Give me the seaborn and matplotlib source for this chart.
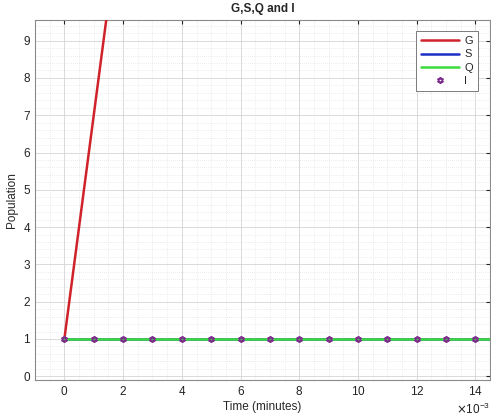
import numpy as np
import pandas as pd
import matplotlib
matplotlib.use("Agg")
import matplotlib.pyplot as plt
from matplotlib.ticker import MultipleLocator, ScalarFormatter
import seaborn as sns

# Time samples (minutes, in units of 1e-3)
t_ms = [0, 1, 2, 3, 4, 5, 6, 7, 8, 9, 10, 11, 12, 13, 14, 15]
# Populations
G_t_ms = [0, 1, 2]
G_vals = [1.0, 7.0, 13.0]
S_vals = [1, 1, 1, 1, 1, 1, 1, 1, 1, 1, 1, 1, 1, 1, 1, 1]
Q_vals = [1, 1, 1, 1, 1, 1, 1, 1, 1, 1, 1, 1, 1, 1, 1, 1]
I_vals = [1, 1, 1, 1, 1, 1, 1, 1, 1, 1, 1, 1, 1, 1, 1, 1]

t = np.array(t_ms) * 1e-3
tG = np.array(G_t_ms) * 1e-3

sns.set_style("white")
plt.rcParams["font.family"] = ["Liberation Sans", "DejaVu Sans"]

fig = plt.figure(figsize=(4.91, 4.17), dpi=100)
ax = fig.add_axes([0.0713, 0.0887, 0.927, 0.863])

red = "#D0222B"
blue = "#1C2FC4"
green = "#3BDC3B"
purple = "#7E2F8E"

sns.lineplot(x=tG, y=G_vals, ax=ax, color=red, lw=1.8, label="G", zorder=3)
sns.lineplot(x=t, y=S_vals, ax=ax, color=blue, lw=1.8, label="S", zorder=3)
sns.lineplot(x=t, y=Q_vals, ax=ax, color=green, lw=1.8, label="Q", zorder=4)
sns.lineplot(x=t, y=I_vals, ax=ax, color=purple, lw=0, label="I",
             marker=(6, 1, 0), markersize=4.5, markerfacecolor="none",
             markeredgecolor=purple, markeredgewidth=1.3, zorder=5)

ax.set_xlim(-1e-3, 14.5e-3)
ax.set_ylim(-0.1, 9.55)
ax.xaxis.set_major_locator(MultipleLocator(2e-3))
ax.xaxis.set_minor_locator(MultipleLocator(0.5e-3))
ax.yaxis.set_major_locator(MultipleLocator(1))
ax.yaxis.set_minor_locator(MultipleLocator(0.2))

fmt = ScalarFormatter(useMathText=True)
fmt.set_powerlimits((-3, -3))
ax.xaxis.set_major_formatter(fmt)
ax.xaxis.get_offset_text().set_fontsize(8.5)
ax.xaxis.get_offset_text().set_color("#444444")

ax.grid(which="major", color="#D5D5D5", lw=0.6)
ax.grid(which="minor", color="#DADADA", lw=0.5, ls=(0, (1, 2)))
ax.tick_params(which="both", direction="in", labelsize=8.5, colors="#222222",
               top=True, right=True)
ax.tick_params(which="major", length=3)
ax.tick_params(which="minor", length=0)
for s in ax.spines.values():
    s.set_color("#8A8A8A")
    s.set_linewidth(0.8)

ax.set_title("G,S,Q and I", fontsize=8.5, fontweight="bold", pad=6)
ax.set_xlabel("Time (minutes)", fontsize=8.5, labelpad=2)
ax.set_ylabel("Population", fontsize=8.5, labelpad=4)

leg = ax.legend(loc="upper right", fontsize=8, handlelength=3.4,
                handletextpad=0.5, borderpad=0.45, labelspacing=0.3,
                fancybox=False, framealpha=1, edgecolor="#666666",
                bbox_to_anchor=(0.985, 0.985))
leg.get_frame().set_linewidth(0.6)

fig.savefig("out.png", dpi=100)
